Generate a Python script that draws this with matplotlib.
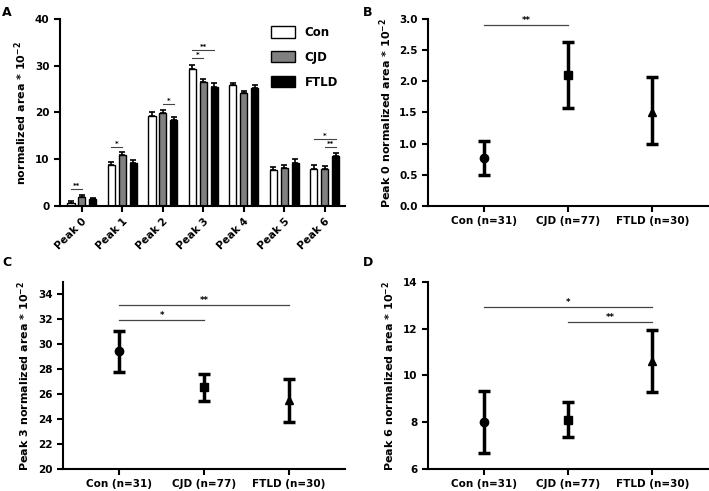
import numpy as np
import matplotlib.pyplot as plt

plt.rcParams['font.family'] = 'DejaVu Sans'
plt.rcParams['font.weight'] = 'bold'
plt.rcParams['font.size'] = 7

groups = ['Con', 'CJD', 'FTLD']
peaks = ['Peak 0', 'Peak 1', 'Peak 2', 'Peak 3', 'Peak 4', 'Peak 5', 'Peak 6']
con_mean = [0.7, 8.8, 19.2, 29.4, 25.8, 7.6, 8.0]
cjd_mean = [2.0, 10.9, 19.9, 26.5, 24.1, 8.1, 8.0]
ftld_mean = [1.4, 9.1, 18.3, 25.5, 25.2, 9.3, 10.6]
con_sem = [0.3, 0.7, 0.8, 0.8, 0.6, 0.8, 0.7]
cjd_sem = [0.4, 0.6, 0.6, 0.6, 0.5, 0.6, 0.5]
ftld_sem = [0.4, 0.8, 0.7, 0.9, 0.7, 0.8, 0.7]
bar_colors = ['white', '#808080', 'black']

# (peak index, group a, group b, line height, label)
sig_a = [(0, 0, 1, 3.6, '**'), (1, 0, 1, 12.6, '*'), (2, 1, 2, 21.8, '*'),
         (3, 0, 1, 31.7, '*'), (3, 0, 2, 33.4, '**'),
         (6, 0, 2, 14.3, '*'), (6, 1, 2, 12.6, '**')]

xlabels = ['Con (n=31)', 'CJD (n=77)', 'FTLD (n=30)']
markers = ['o', 's', '^']

b_mean = [0.77, 2.1, 1.5]
b_lo = [0.5, 1.57, 0.99]
b_hi = [1.05, 2.63, 2.07]
b_sig = [(0, 1, 2.9, '**')]

c_mean = [29.45, 26.55, 25.5]
c_lo = [27.8, 25.45, 23.8]
c_hi = [31.1, 27.65, 27.25]
c_sig = [(0, 1, 31.95, '*'), (0, 2, 33.15, '**')]

d_mean = [8.0, 8.1, 10.6]
d_lo = [6.7, 7.35, 9.3]
d_hi = [9.33, 8.85, 11.95]
d_sig = [(0, 2, 12.95, '*'), (1, 2, 12.3, '**')]


def style_axes(ax):
    for s in ['top', 'right']:
        ax.spines[s].set_visible(False)
    for s in ['left', 'bottom']:
        ax.spines[s].set_linewidth(1.5)
    ax.tick_params(width=1.5, length=4, labelsize=7.5)


fig = plt.figure(figsize=(7.09, 4.91), dpi=100)

# panel A
axA = fig.add_axes([0.0846, 0.5804, 0.402, 0.381])
x = np.arange(len(peaks))
off = 0.27
w = 0.18
for k, (m, e) in enumerate(zip([con_mean, cjd_mean, ftld_mean], [con_sem, cjd_sem, ftld_sem])):
    xs = x + (k - 1) * off
    axA.bar(xs, m, width=w, color=bar_colors[k], edgecolor='black', linewidth=1.0,
            label=groups[k], zorder=2)
    axA.errorbar(xs, m, yerr=[np.zeros(len(e)), e], fmt='none', ecolor='black',
                 elinewidth=1.2, capsize=2, capthick=1.2, zorder=3)
for p, a, b, y, lab in sig_a:
    x0 = p + (a - 1) * off
    x1 = p + (b - 1) * off
    axA.plot([x0, x1], [y, y], color='#444444', lw=0.8)
    axA.text((x0 + x1) / 2, y, lab, ha='center', va='bottom', fontsize=5)
axA.set_xlim(-0.54, 6.5)
axA.set_ylim(0, 40)
axA.set_yticks([0, 10, 20, 30, 40])
axA.set_xticks(x)
axA.set_xticklabels(peaks, rotation=45, ha='right', rotation_mode='anchor')
axA.set_ylabel('normalized area * 10$^{-2}$', fontsize=8, fontweight='bold')
style_axes(axA)
axA.legend(loc='upper right', bbox_to_anchor=(1.0, 1.0), frameon=False, fontsize=8.5,
           handlelength=2.0, handleheight=1.1, labelspacing=1.0, borderaxespad=0.2)


def point_panel(rect, mean, lo, hi, sig, ylim, yticks, ylabel, fmt):
    ax = fig.add_axes(rect)
    xs = np.arange(3)
    for i in range(3):
        ax.errorbar(xs[i], mean[i], yerr=[[mean[i] - lo[i]], [hi[i] - mean[i]]],
                    fmt=markers[i], color='black', ms=6, elinewidth=2.5,
                    capsize=4, capthick=2.5)
    for a, b, y, lab in sig:
        ax.plot([a, b], [y, y], color='#444444', lw=0.9)
        ax.text((a + b) / 2, y, lab, ha='center', va='bottom', fontsize=6)
    ax.set_xlim(-0.66, 2.66)
    ax.set_ylim(*ylim)
    ax.set_yticks(yticks)
    ax.set_yticklabels([fmt.format(t) for t in yticks])
    ax.set_xticks(xs)
    ax.set_xticklabels(xlabels)
    ax.set_ylabel(ylabel, fontsize=8, fontweight='bold')
    style_axes(ax)
    return ax


point_panel([0.6037, 0.5804, 0.395, 0.381], b_mean, b_lo, b_hi, b_sig, (0, 3.0),
            [0, 0.5, 1.0, 1.5, 2.0, 2.5, 3.0], 'Peak 0 normalized area * 10$^{-2}$', '{:.1f}')
point_panel([0.0889, 0.0448, 0.3977, 0.3809], c_mean, c_lo, c_hi, c_sig, (20, 35),
            [20, 22, 24, 26, 28, 30, 32, 34], 'Peak 3 normalized area * 10$^{-2}$', '{:d}')
point_panel([0.6037, 0.0448, 0.395, 0.3809], d_mean, d_lo, d_hi, d_sig, (6, 14),
            [6, 8, 10, 12, 14], 'Peak 6 normalized area * 10$^{-2}$', '{:d}')

for lab, px, py in [('A', 2, 12), ('B', 363, 12), ('C', 2, 262), ('D', 363, 262)]:
    fig.text(px / 709, 1 - py / 491, lab, fontsize=9, fontweight='bold', va='center')

fig.savefig('out.png', dpi=100)
